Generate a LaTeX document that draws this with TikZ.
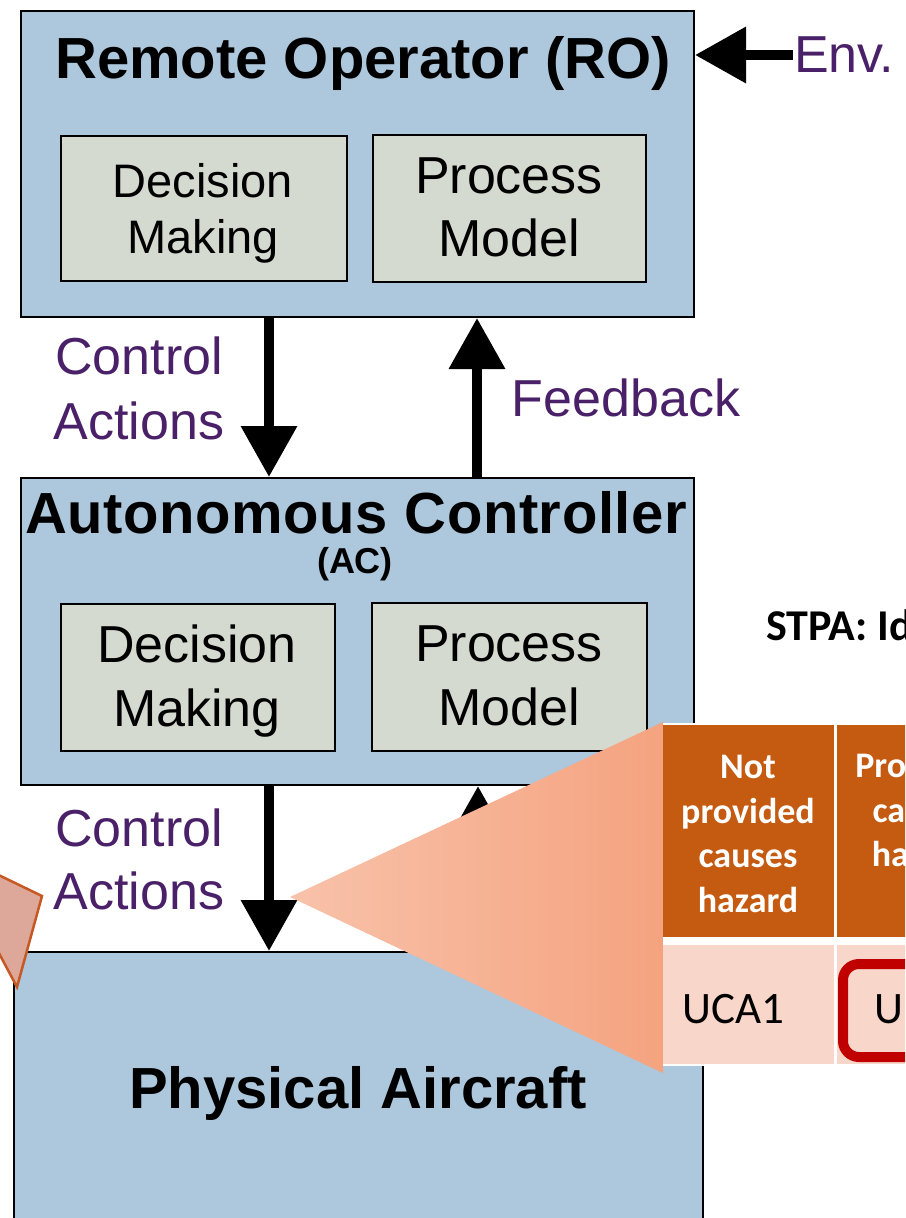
\documentclass[tikz,border=0pt]{standalone}
\usepackage{fontspec}
\setmainfont{Liberation Sans}
\newfontfamily\calibri{Carlito}
\usetikzlibrary{arrows.meta}
\definecolor{boxblue}{RGB}{173,199,220}
\definecolor{innergrey}{RGB}{212,218,208}
\definecolor{purp}{RGB}{74,32,105}
\definecolor{hdr}{RGB}{197,90,17}
\definecolor{rowpink}{RGB}{248,214,202}
\definecolor{peachL}{RGB}{248,194,170}
\definecolor{peachR}{RGB}{245,163,127}
\definecolor{ucared}{RGB}{192,0,0}
\definecolor{tabpink}{RGB}{221,168,153}
\definecolor{tabedge}{RGB}{197,88,35}
\tikzset{
  bluebox/.style={draw=black, line width=2pt, fill=boxblue, inner sep=0pt, anchor=north west},
  greybox/.style={draw=black, line width=2pt, fill=innergrey, inner sep=0pt, anchor=north west},
  cell/.style={fill=#1, inner sep=0pt, anchor=north west},
  txt/.style={inner sep=0pt, align=center},
  title/.style={inner sep=0pt, font=\bfseries\fontsize{58}{66}\selectfont},
  lbl/.style={inner sep=0pt, align=center, text=purp},
  arr/.style={line width=10pt, -{Triangle[width=54pt,length=51pt]}},
  hdrtxt/.style={inner sep=0pt, align=center, text=white, font=\calibri\bfseries\fontsize{36}{44.7}\selectfont, anchor=north},
}
\begin{document}
\begin{tikzpicture}[x=1pt,y=-1pt]
\useasboundingbox (0,0) rectangle (905,1218);
\clip (0,0) rectangle (905,1218);

% control structure boxes
\node[bluebox, minimum width=673pt, minimum height=306pt] (ro) at (20,10) {};
\node[greybox, minimum width=286pt, minimum height=145pt] (roDM) at (60,135) {};
\node[greybox, minimum width=273pt, minimum height=147pt] (roPM) at (372,134) {};
\node[bluebox, minimum width=673pt, minimum height=307pt] (ac) at (20,477) {};
\node[greybox, minimum width=274pt, minimum height=147pt] (acDM) at (60,603) {};
\node[greybox, minimum width=275pt, minimum height=148pt] (acPM) at (371,602) {};
\node[bluebox, minimum width=689pt, minimum height=320pt] (pa) at (13,951) {};

% box titles
\node[title, anchor=base] (roT) at (363,78) {Remote Operator (RO)};
\node[title, anchor=base] (acT) at (356,533) {\addfontfeatures{LetterSpace=1.0}Autonomous Controller};
\node[inner sep=0pt, anchor=base, font=\bfseries\fontsize{36}{40}\selectfont] (acS) at (355,573) {(AC)};
\node[title, anchor=base] (paT) at (358,1108) {Physical Aircraft};

% inner box texts
\node[txt, anchor=north, font=\fontsize{47}{56}\selectfont] (roDMt) at (203,163) {Decision\\Making};
\node[txt, anchor=north, font=\fontsize{52}{63}\selectfont] (roPMt) at (509,158) {Process\\Model};
\node[txt, anchor=north, font=\fontsize{52}{64}\selectfont] (acDMt) at (197,625) {Decision\\Making};
\node[txt, anchor=north, font=\fontsize{52}{64}\selectfont] (acPMt) at (509,626) {Process\\Model};

% connectors
\draw[arr] ([xshift=249pt]ro.south west) -- ([xshift=249pt]ac.north west);
\draw[arr] ([xshift=457pt]ac.north west) -- ([xshift=457pt]ro.south west);
\draw[arr] ([xshift=249pt]ac.south west) -- ([xshift=256pt]pa.north west);
\draw[arr] ([xshift=465pt]pa.north west) -- ([xshift=458pt]ac.south west);
\coordinate (envtail) at (793,55);
\draw[arr] (envtail) -- (envtail -| ro.east);

% connector labels
\node[lbl, anchor=north, font=\fontsize{52}{65}\selectfont] (ca1) at (139,337) {Control\\Actions};
\node[lbl, anchor=base, font=\fontsize{52}{60}\selectfont] (fb1) at (626,416) {Feedback};
\node[lbl, anchor=north, font=\fontsize{52}{63}\selectfont] (ca2) at (139,809) {Control\\Actions};
\node[lbl, anchor=base west, font=\fontsize{52}{60}\selectfont] (env) at (794,72) {Env.};

% callout pointer at the left edge
\draw[fill=tabpink, draw=tabedge, line width=2.5pt, line join=miter]
  (-20,866) -- (42,896) -- (17,987) -- (-15,927) -- cycle;

% callout wedge towards the table
\coordinate (wApex) at (290,897);
\coordinate (wTop) at (663,722);
\coordinate (wBot) at (663,1073);
\shade[left color=peachL, right color=peachR] (wApex) -- (wTop) -- (wBot) -- cycle;

% STPA table
\node[inner sep=0pt, anchor=base west, font=\calibri\bfseries\fontsize{44}{50}\selectfont] (stpa) at (766,640) {STPA: Identify Unsafe Control Actions};
\fill[white] (663,723) rectangle (1015,1066);
\node[cell=hdr, minimum width=171pt, minimum height=212pt] (h1) at (663,725) {};
\node[cell=hdr, minimum width=171pt, minimum height=212pt] (h2) at (837,725) {};
\node[cell=rowpink, minimum width=171pt, minimum height=119pt] (d1) at (663,945) {};
\node[cell=rowpink, minimum width=171pt, minimum height=119pt] (d2) at (837,945) {};
\node[hdrtxt] (h1t) at (748,755) {Not\\provided\\causes\\hazard};
\node[hdrtxt] (h2t) at (922,752) {Provided\\causes\\hazard};
\node[inner sep=0pt, anchor=base west, font=\calibri\fontsize{45}{50}\selectfont] (u1) at (682,1023) {UCA1};
\draw[ucared, line width=10pt, rounded corners=16pt] (843,964) rectangle (1003,1057);
\node[inner sep=0pt, anchor=base west, font=\calibri\fontsize{45}{50}\selectfont] (u2) at (874,1023) {U\hspace{4pt}CA2};
\end{tikzpicture}
\end{document}
